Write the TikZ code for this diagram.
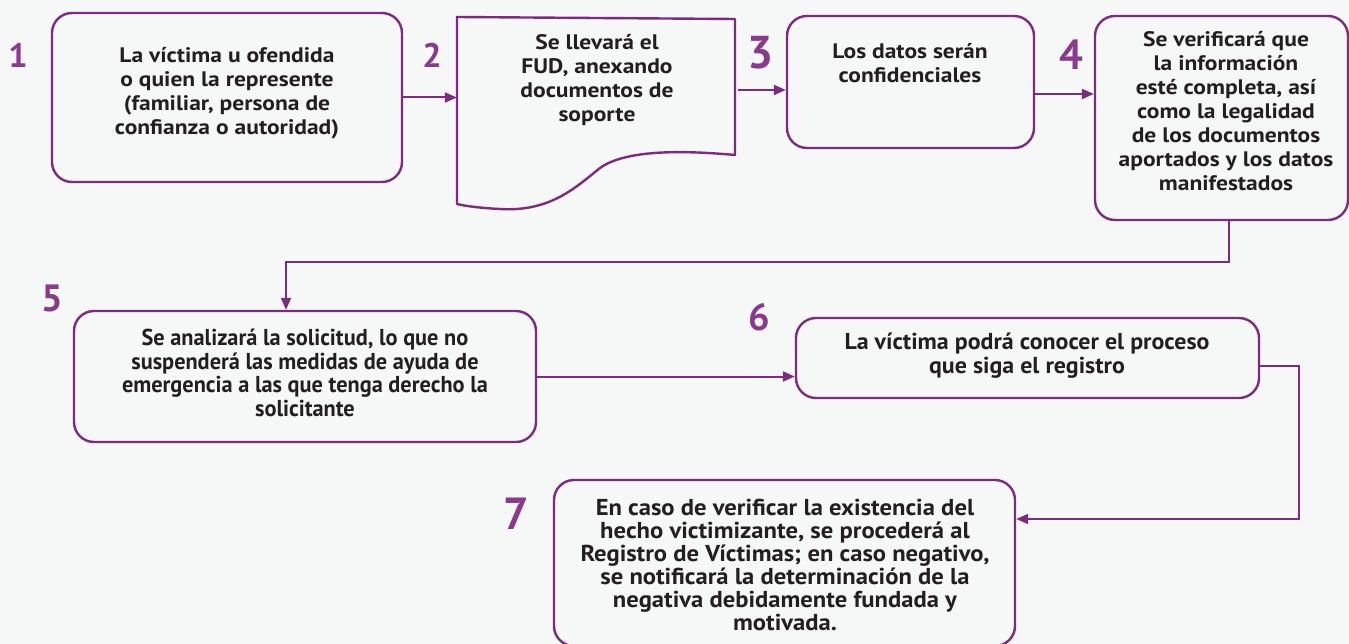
\documentclass[tikz,border=0pt]{standalone}
\usepackage{fontspec}
\setmainfont{PT Sans}
\newfontfamily\widefont[FakeStretch=1.12]{PT Sans}
\newfontfamily\condfontA[FakeStretch=0.97]{PT Sans}
\newfontfamily\condfontB[FakeStretch=1.04]{PT Sans}
\newfontfamily\condfontC[FakeStretch=1.07]{PT Sans}
\usetikzlibrary{arrows.meta}
\definecolor{purp}{HTML}{7E2A80}
\definecolor{numc}{HTML}{8A3A8C}
\definecolor{txt}{HTML}{231F20}
\definecolor{bg}{HTML}{F6F7F7}
\begin{document}
\begin{tikzpicture}[x=1pt,y=-1pt,
 box/.style={draw=purp,line width=2.4pt,rounded corners=20pt,inner sep=0pt},
 arr/.style={draw=purp,line width=2pt,-{Triangle[length=12pt,width=10pt]}},
 txtn/.style={text=txt,font=\widefont\bfseries\fontsize{21}{24}\selectfont,align=center,inner sep=0pt},
 ctxt/.style={text=txt,align=center,inner sep=0pt},
 num/.style={text=numc,inner sep=0pt}]
\fill[bg] (0,0) rectangle (1349,644);
\useasboundingbox (0,0) rectangle (1349,644);
% boxes
\node[box,minimum width=350pt,minimum height=169pt] (b1) at (227,97.5) {};
\node[inner sep=0pt,minimum width=278pt,minimum height=187pt] (b2) at (596,110.5) {};
\draw[purp,line width=2.4pt,line join=round] (457,17) -- (735,19) -- (735,155)
  .. controls (680,150) and (625,150) .. (600,168)
  .. controls (575,188) and (550,212) .. (500,209)
  .. controls (480,208) and (465,206) .. (457,204) -- cycle;
\node[box,minimum width=247pt,minimum height=132pt] (b3) at (910.5,82) {};
\node[box,minimum width=253pt,minimum height=204pt] (b4) at (1221.5,118) {};
\node[box,minimum width=462pt,minimum height=131pt] (b5) at (305,376.5) {};
\node[box,minimum width=463pt,minimum height=80pt] (b6) at (1027.5,358) {};
\node[box,minimum width=461pt,minimum height=166pt] (b7) at (784.5,563) {};
% texts
\node[txtn] (t1) at (227,93) {La víctima u ofendida\\o quien la represente\\(familiar, persona de\\confianza o autoridad)};
\node[txtn] (t2) at (597,80) {Se llevará el\\FUD, anexando\\documentos de\\soporte};
\node[txtn] (t3) at (910,63) {Los datos serán\\confidenciales};
\node[txtn] (t4) at (1226,111) {Se verificará que\\la información\\esté completa, así\\como la legalidad\\de los documentos\\aportados y los datos\\manifestados};
\node[ctxt,font=\condfontA\bfseries\fontsize{23}{23.7}\selectfont] (t5) at (305,373) {Se analizará la solicitud, lo que no\\suspenderá las medidas de ayuda de\\emergencia a las que tenga derecho la\\solicitante};
\node[ctxt,font=\condfontB\bfseries\fontsize{23}{24}\selectfont] (t6) at (1027,356) {La víctima podrá conocer el proceso\\que siga el registro};
\node[ctxt,font=\condfontC\bfseries\fontsize{23}{23}\selectfont] (t7) at (785,565) {En caso de verificar la existencia del\\hecho victimizante, se procederá al\\Registro de Víctimas; en caso negativo,\\se notificará la determinación de la\\negativa debidamente fundada y\\motivada.};
% numbers
\node[num,font=\bfseries\fontsize{34}{34}\selectfont] (n1) at (18,55) {1};
\node[num,font=\bfseries\fontsize{34}{34}\selectfont] (n2) at (432,55) {2};
\node[num,font=\bfseries\fontsize{46}{46}\selectfont] (n3) at (761,53) {3};
\node[num,font=\bfseries\fontsize{42}{42}\selectfont] (n4) at (1071,55) {4};
\node[num,font=\bfseries\fontsize{38}{38}\selectfont] (n5) at (52,298) {5};
\node[num,font=\bfseries\fontsize{38}{38}\selectfont] (n6) at (759,317) {6};
\node[num,font=\bfseries\fontsize{45}{45}\selectfont] (n7) at (516,514) {7};
% connectors
\coordinate (c23a) at (738,90);
\coordinate (c34) at (1034,94);
\coordinate (c45a) at (1229,220);
\coordinate (c45b) at (1229,262);
\coordinate (c45c) at (286,262);
\coordinate (c67a) at (1299,366);
\coordinate (c67b) at (1299,519);
\draw[arr] (b1.east) -- (b1.east -| b2.west);
\draw[arr] (c23a) -- (c23a -| b3.west);
\draw[arr] (c34) -- (c34 -| b4.west);
\draw[arr] (c45a) -- (c45b) -- (c45c) -- (c45c |- b5.north);
\draw[arr] (b5.east) -- (b5.east -| b6.west);
\draw[arr] (c67a -| b6.east) -- (c67a) -- (c67b) -- (c67b -| b7.east);
\end{tikzpicture}
\end{document}
